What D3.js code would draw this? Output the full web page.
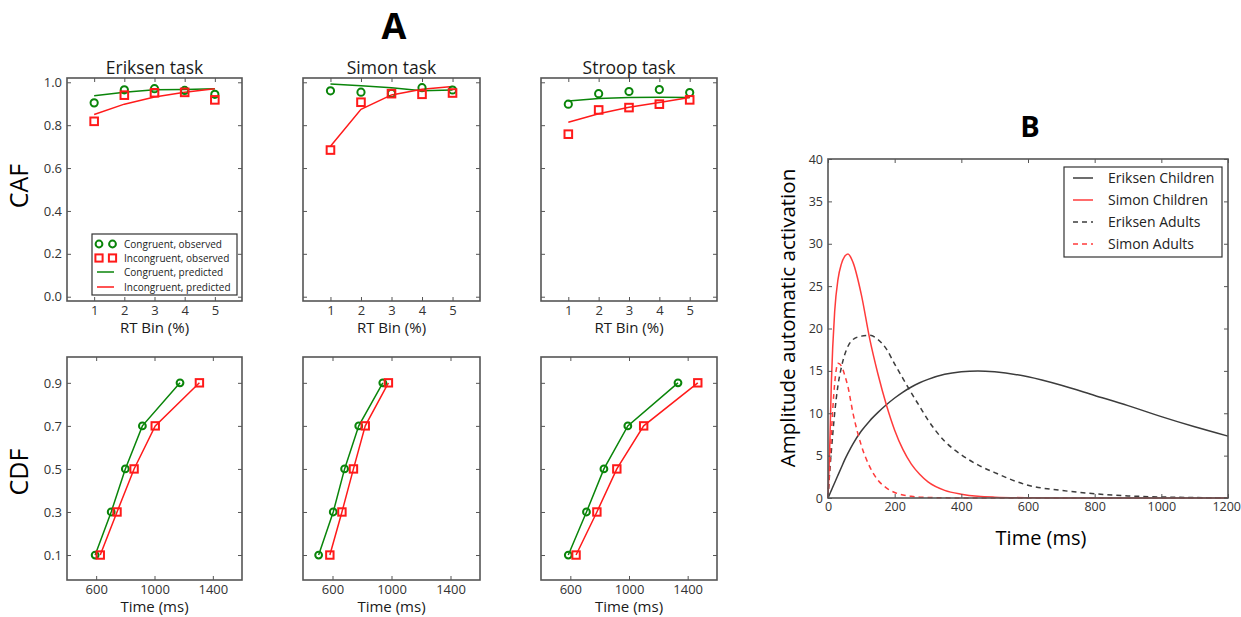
<!DOCTYPE html>
<html><head><meta charset="utf-8">
<script src="https://cdn.jsdelivr.net/npm/d3@7"></script>
<style>
body{margin:0;background:#fff}
text{font-family:"Open Sans",sans-serif}
</style>
</head><body>
<svg id="c" width="1241" height="617"></svg>
<script>
// ---------- DATA ----------
const bins = [1, 2, 3, 4, 5];
const cafTicks = [0.0, 0.2, 0.4, 0.6, 0.8, 1.0];
const quantiles = [0.1, 0.3, 0.5, 0.7, 0.9];
const cdfTimeTicks = [600, 1000, 1400];
const taskNames = ["Eriksen task", "Simon task", "Stroop task"];

// CAF (accuracy per RT bin)
const eriksenCongObs  = [0.904, 0.965, 0.970, 0.962, 0.944];
const eriksenIncObs   = [0.818, 0.940, 0.951, 0.953, 0.918];
const eriksenCongPred = [0.937, 0.954, 0.965, 0.966, 0.970];
const eriksenIncPred  = [0.850, 0.898, 0.931, 0.954, 0.970];

const simonCongObs  = [0.960, 0.954, 0.948, 0.975, 0.964];
const simonIncObs   = [0.684, 0.907, 0.947, 0.944, 0.950];
const simonCongPred = [0.992, 0.984, 0.974, 0.961, 0.964];
const simonIncPred  = [0.702, 0.874, 0.941, 0.967, 0.980];

const stroopCongObs  = [0.898, 0.947, 0.957, 0.966, 0.952];
const stroopIncObs   = [0.758, 0.871, 0.882, 0.898, 0.918];
const stroopCongPred = [0.913, 0.924, 0.929, 0.930, 0.929];
const stroopIncPred  = [0.814, 0.853, 0.884, 0.906, 0.929];

// CDF (RT quantiles, ms)
const eriksenCdfCong = [593, 703, 800, 917, 1175];
const eriksenCdfInc  = [628, 743, 860, 1005, 1308];
const simonCdfCong   = [506, 605, 682, 778, 941];
const simonCdfInc    = [582, 664, 742, 822, 979];
const stroopCdfCong  = [586, 710, 829, 992, 1334];
const stroopCdfInc   = [639, 781, 917, 1100, 1469];

// Panel B: automatic activation over time
const timeMs = [0, 5, 10, 20, 30, 40, 50, 60, 75, 100, 125, 150, 175, 200, 225, 250, 275, 300, 350, 400, 450, 500, 600, 700, 800, 900, 1000, 1100, 1200];
const eriksenChildren = [0, 0.45, 0.9, 1.8, 2.7, 3.6, 4.5, 5.3, 6.4, 7.9, 9.1, 10.1, 11.0, 11.8, 12.5, 13.1, 13.6, 14.0, 14.6, 14.9, 15.0, 14.9, 14.3, 13.3, 12.1, 10.9, 9.6, 8.4, 7.3];
const simonChildren   = [0, 5.7, 13.5, 22.0, 25.8, 27.6, 28.5, 28.8, 27.8, 24.0, 18.8, 14.6, 11.0, 8.0, 5.7, 4.0, 2.8, 1.9, 0.9, 0.45, 0.2, 0.1, 0.03, 0.01, 0, 0, 0, 0, 0];
const eriksenAdults   = [0, 3.0, 5.5, 10.0, 13.3, 15.4, 16.9, 17.9, 18.7, 19.1, 19.2, 18.7, 17.6, 15.8, 14.1, 12.4, 10.8, 9.2, 6.7, 5.1, 3.9, 3.0, 1.5, 0.9, 0.5, 0.25, 0.12, 0.05, 0.02];
const simonAdults     = [0, 3.5, 7.5, 13.5, 15.9, 15.6, 14.5, 13.1, 10.0, 6.2, 3.7, 2.1, 1.2, 0.65, 0.35, 0.2, 0.1, 0.06, 0.02, 0, 0, 0, 0, 0, 0, 0, 0, 0, 0];
const bLegend = ["Eriksen Children", "Simon Children", "Eriksen Adults", "Simon Adults"];
const bXTicks = [0, 200, 400, 600, 800, 1000, 1200];
const bYTicks = [0, 5, 10, 15, 20, 25, 30, 35, 40];

// ---------- STYLE ----------
const GREEN = "#0a850a", RED = "#ff1a1a";
const FRAME = "#555", TICKTXT = "#333";
const svg = d3.select("#c");

function frame(g, x, y, xTicks, yTicks, xFmt, yFmt, opts) {
  const [xa, xb] = x.range(); const [yb, ya] = y.range();
  const fs = opts.fs || 13;
  const ax = g.append("g").attr("transform", `translate(0,${yb})`)
    .call(d3.axisBottom(x).tickValues(xTicks).tickSizeInner(-4).tickSizeOuter(0).tickPadding(opts.xpad || 5).tickFormat(xFmt));
  const at = g.append("g").attr("transform", `translate(0,${ya})`)
    .call(d3.axisTop(x).tickValues(xTicks).tickSizeInner(-4).tickSizeOuter(0).tickFormat(""));
  const ay = g.append("g").attr("transform", `translate(${xa},0)`)
    .call(d3.axisLeft(y).tickValues(yTicks).tickSizeInner(-4).tickSizeOuter(0).tickPadding(opts.ypad || 5).tickFormat(opts.showY ? yFmt : ""));
  const ar = g.append("g").attr("transform", `translate(${xb},0)`)
    .call(d3.axisRight(y).tickValues(yTicks).tickSizeInner(-4).tickSizeOuter(0).tickFormat(""));
  [ax, at, ay, ar].forEach(a => {
    a.select(".domain").remove();
    a.selectAll("line").attr("stroke", FRAME).attr("stroke-width", 1);
    a.selectAll("text").attr("fill", TICKTXT).style("font-size", fs + "px").style("font-family", '"Open Sans",sans-serif');
  });
  g.append("rect").attr("x", xa).attr("y", ya).attr("width", xb - xa).attr("height", yb - ya)
    .attr("fill", "none").attr("stroke", FRAME).attr("stroke-width", 1.6);
  return ax;
}

function circles(g, pts, color, r) {
  g.selectAll(null).data(pts).enter().append("circle")
    .attr("cx", d => d[0]).attr("cy", d => d[1]).attr("r", r || 3.6)
    .attr("fill", "none").attr("stroke", color).attr("stroke-width", 2);
}
function squares(g, pts, color, s) {
  s = s || 7.6;
  g.selectAll(null).data(pts).enter().append("rect")
    .attr("x", d => d[0] - s / 2).attr("y", d => d[1] - s / 2).attr("width", s).attr("height", s)
    .attr("fill", "none").attr("stroke", color).attr("stroke-width", 2);
}
function polyline(g, pts, color, w) {
  g.append("path").attr("d", d3.line()(pts)).attr("fill", "none")
    .attr("stroke", color).attr("stroke-width", w || 1.5);
}

// ---------- PANEL A ----------
const colX = [[67, 242], [303, 480], [541, 717]];
const topY = [78, 301], botY = [357, 580];
const cafData = [
  [eriksenCongObs, eriksenIncObs, eriksenCongPred, eriksenIncPred],
  [simonCongObs, simonIncObs, simonCongPred, simonIncPred],
  [stroopCongObs, stroopIncObs, stroopCongPred, stroopIncPred]
];
const cdfData = [[eriksenCdfCong, eriksenCdfInc], [simonCdfCong, simonCdfInc], [stroopCdfCong, stroopCdfInc]];

svg.append("text").attr("x", 394).attr("y", 39).attr("text-anchor", "middle")
  .style("font-size", "36px").style("font-weight", "bold").attr("fill", "#000").text("A");

colX.forEach((cx, i) => {
  // CAF
  const g = svg.append("g");
  const x = d3.scaleLinear().domain([0.1, 5.9]).range(cx);
  const y = d3.scaleLinear().domain([-0.02, 1.02]).range([topY[1], topY[0]]);
  frame(g, x, y, bins, cafTicks, d3.format("d"), d3.format(".1f"), {showY: i === 0});
  const [co, io, cp, ip] = cafData[i];
  polyline(g, bins.map((b, k) => [x(b), y(cp[k])]), GREEN);
  polyline(g, bins.map((b, k) => [x(b), y(ip[k])]), RED);
  circles(g, bins.map((b, k) => [x(b), y(co[k])]), GREEN);
  squares(g, bins.map((b, k) => [x(b), y(io[k])]), RED);
  g.append("text").attr("x", (cx[0] + cx[1]) / 2).attr("y", 74).attr("text-anchor", "middle")
    .style("font-size", "17.5px").attr("fill", "#1a1a1a").text(taskNames[i]);
  g.append("text").attr("x", (cx[0] + cx[1]) / 2).attr("y", 333).attr("text-anchor", "middle")
    .style("font-size", "15px").attr("fill", "#1a1a1a").text("RT Bin (%)");

  // CDF
  const g2 = svg.append("g");
  const x2 = d3.scaleLinear().domain([400, 1600]).range(cx);
  const y2 = d3.scaleLinear().domain([-0.016, 1.02]).range([botY[1], botY[0]]);
  frame(g2, x2, y2, cdfTimeTicks, quantiles, d3.format("d"), d3.format(".1f"), {showY: i === 0});
  const [cc, ic] = cdfData[i];
  polyline(g2, quantiles.map((q, k) => [x2(cc[k]), y2(q)]), GREEN);
  polyline(g2, quantiles.map((q, k) => [x2(ic[k]), y2(q)]), RED);
  circles(g2, quantiles.map((q, k) => [x2(cc[k]), y2(q)]), GREEN, 3.4);
  squares(g2, quantiles.map((q, k) => [x2(ic[k]), y2(q)]), RED, 7.4);
  g2.append("text").attr("x", (cx[0] + cx[1]) / 2).attr("y", 612).attr("text-anchor", "middle")
    .style("font-size", "15px").attr("fill", "#1a1a1a").text("Time (ms)");
});

svg.append("text").attr("transform", "translate(28,186) rotate(-90)").attr("text-anchor", "middle")
  .style("font-size", "25px").attr("fill", "#000").text("CAF");
svg.append("text").attr("transform", "translate(28,472) rotate(-90)").attr("text-anchor", "middle")
  .style("font-size", "25px").attr("fill", "#000").text("CDF");

// Legend of panel A
const lg = svg.append("g");
lg.append("rect").attr("x", 92).attr("y", 234).attr("width", 145).attr("height", 61)
  .attr("fill", "#fff").attr("stroke", "#333").attr("stroke-width", 1.2);
const legA = ["Congruent, observed", "Incongruent, observed", "Congruent, predicted", "Incongruent, predicted"];
const legAy = [244, 258, 272, 287];
circles(lg, [[99, legAy[0]], [112.5, legAy[0]]], GREEN, 3.4);
squares(lg, [[99, legAy[1]], [112.5, legAy[1]]], RED, 7.2);
polyline(lg, [[97, legAy[2]], [114, legAy[2]]], GREEN);
polyline(lg, [[97, legAy[3]], [114, legAy[3]]], RED);
legA.forEach((t, k) => lg.append("text").attr("x", 124).attr("y", legAy[k] + 3.5)
  .style("font-size", "10px").attr("fill", "#222").text(t));

// ---------- PANEL B ----------
const gb = svg.append("g");
const xb = d3.scaleLinear().domain([0, 1200]).range([828, 1228]);
const yb = d3.scaleLinear().domain([0, 40]).range([498, 159]);
svg.append("text").attr("x", 1030).attr("y", 137).attr("text-anchor", "middle")
  .style("font-size", "29px").style("font-weight", "bold").attr("fill", "#000").text("B");

const bSeries = [
  {v: eriksenChildren, c: "#3c3c3c", dash: null},
  {v: simonChildren, c: "#ff3b3b", dash: null},
  {v: eriksenAdults, c: "#3c3c3c", dash: "5,4"},
  {v: simonAdults, c: "#ff3b3b", dash: "5,4"}
];
const lineB = d3.line().x(d => xb(d[0])).y(d => yb(d[1])).curve(d3.curveMonotoneX);
[0, 1, 2, 3].forEach(k => {
  const s = bSeries[k];
  gb.append("path").attr("d", lineB(timeMs.map((t, j) => [t, s.v[j]])))
    .attr("fill", "none").attr("stroke", s.c).attr("stroke-width", 1.5)
    .attr("stroke-dasharray", s.dash);
});
const bAxis = frame(gb, xb, yb, bXTicks, bYTicks, d3.format("d"), d3.format("d"), {showY: true, fs: 12.5, xpad: 4, ypad: 5});
// keep the last x tick label ("1200") inside the window, as in the reference
bAxis.selectAll(".tick").filter(d => d === 1200).select("text")
  .attr("text-anchor", "end").attr("x", 12.5);

// legend B
gb.append("rect").attr("x", 1064).attr("y", 167).attr("width", 158).attr("height", 90)
  .attr("fill", "#fff").attr("stroke", "#333").attr("stroke-width", 1.2);
const legBy = [178, 200, 222, 244];
bLegend.forEach((t, k) => {
  const s = bSeries[k];
  gb.append("line").attr("x1", 1073).attr("x2", 1093).attr("y1", legBy[k]).attr("y2", legBy[k])
    .attr("stroke", s.c).attr("stroke-width", 1.5).attr("stroke-dasharray", s.dash);
  gb.append("text").attr("x", 1108).attr("y", legBy[k] + 5)
    .style("font-size", "14px").attr("fill", "#222").text(t);
});

svg.append("text").attr("transform", "translate(795,318) rotate(-90)").attr("text-anchor", "middle")
  .style("font-size", "20.5px").attr("fill", "#000").text("Amplitude automatic activation");
svg.append("text").attr("x", 1041).attr("y", 545).attr("text-anchor", "middle")
  .style("font-size", "20px").attr("fill", "#000").text("Time (ms)");
</script>
</body></html>
